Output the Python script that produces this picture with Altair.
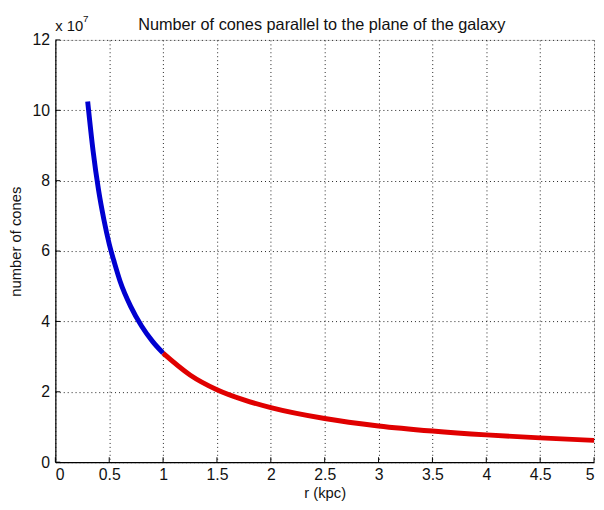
import altair as alt
import pandas as pd

# Values (number of cones in units of 1e7)
r_inner = [0.3, 0.35, 0.4, 0.45, 0.5, 0.55, 0.6, 0.7, 0.8, 0.9, 1.0]
n_inner = [10.25, 8.85, 7.75, 6.9, 6.2, 5.65, 5.15, 4.42, 3.87, 3.44, 3.1]
r_outer = [1.0, 1.25, 1.5, 1.75, 2.0, 2.5, 3.0, 3.5, 4.0, 4.5, 5.0]
n_outer = [3.1, 2.48, 2.06, 1.77, 1.55, 1.24, 1.03, 0.885, 0.775, 0.69, 0.62]

x_ticks = [0, 0.5, 1, 1.5, 2, 2.5, 3, 3.5, 4, 4.5, 5]
y_ticks = [0, 2, 4, 6, 8, 10, 12]

title_text = "Number of cones parallel to the plane of the galaxy"
x_title = "r (kpc)"
y_title = "number of cones"

FONT = "Liberation Sans"
W, H = 546, 428

df = pd.DataFrame({
    "r": r_inner + r_outer,
    "n": n_inner + n_outer,
    "seg": ["inner"] * len(r_inner) + ["outer"] * len(r_outer),
})
dfx = pd.DataFrame({"r": x_ticks})
dfy = pd.DataFrame({"n": y_ticks})

xs = alt.Scale(domain=[0, 5], nice=False, zero=False)
ys = alt.Scale(domain=[0, 12], nice=False)

axis_common = dict(
    grid=True, gridDash=[1, 3], gridColor="#222222", gridWidth=1,
    ticks=False, domainColor="black", domainWidth=1.2,
    labelFont=FONT, labelFontSize=16, labelColor="#111111",
    titleFont=FONT, titleFontSize=15, titleFontWeight="normal", titleColor="#111111",
    format="~g",
)

lines = alt.Chart(df).mark_line(strokeWidth=5, interpolate="monotone").encode(
    x=alt.X("r:Q", scale=xs,
            axis=alt.Axis(values=x_ticks, title=x_title, labelPadding=5,
                          titleBaseline="alphabetic", titleY=36, **axis_common)),
    y=alt.Y("n:Q", scale=ys,
            axis=alt.Axis(values=y_ticks, title=y_title, labelPadding=6,
                          titleBaseline="alphabetic", titleAlign="center",
                          titleX=-35, titleY=204, **axis_common)),
    color=alt.Color("seg:N", scale=alt.Scale(domain=["inner", "outer"], range=["#0000d0", "#e00000"]), legend=None),
)

xt = alt.Chart(dfx).mark_rule(color="black", strokeWidth=1).encode(
    x=alt.X("r:Q", scale=xs),
    y=alt.value(H), y2=alt.value(H - 5),
)
yt = alt.Chart(dfy).mark_rule(color="black", strokeWidth=1).encode(
    y=alt.Y("n:Q", scale=ys),
    x=alt.value(0), x2=alt.value(5),
)

exp_base = alt.Chart(pd.DataFrame({"t": ["x 10"]})).mark_text(
    font=FONT, fontSize=15, align="left", baseline="alphabetic", color="#111111"
).encode(x=alt.value(0), y=alt.value(-9), text="t:N")
exp_pow = alt.Chart(pd.DataFrame({"t": ["7"]})).mark_text(
    font=FONT, fontSize=10, align="left", baseline="alphabetic", color="#111111"
).encode(x=alt.value(28), y=alt.value(-18), text="t:N")

title = alt.Chart(pd.DataFrame({"t": [title_text]})).mark_text(
    font=FONT, fontSize=16.5, align="center", baseline="alphabetic", color="#111111"
).encode(x=alt.value(270), y=alt.value(-10), text="t:N")

chart = alt.layer(lines, xt, yt, exp_base, exp_pow, title).properties(
    width=W, height=H,
    autosize=alt.AutoSizeParams(type="none"),
    padding={"left": 48, "top": 29, "right": 2, "bottom": 37},
).configure_view(stroke=None).configure(background="white")

chart.save("out.html", embed_options={"renderer": "svg", "actions": False})
